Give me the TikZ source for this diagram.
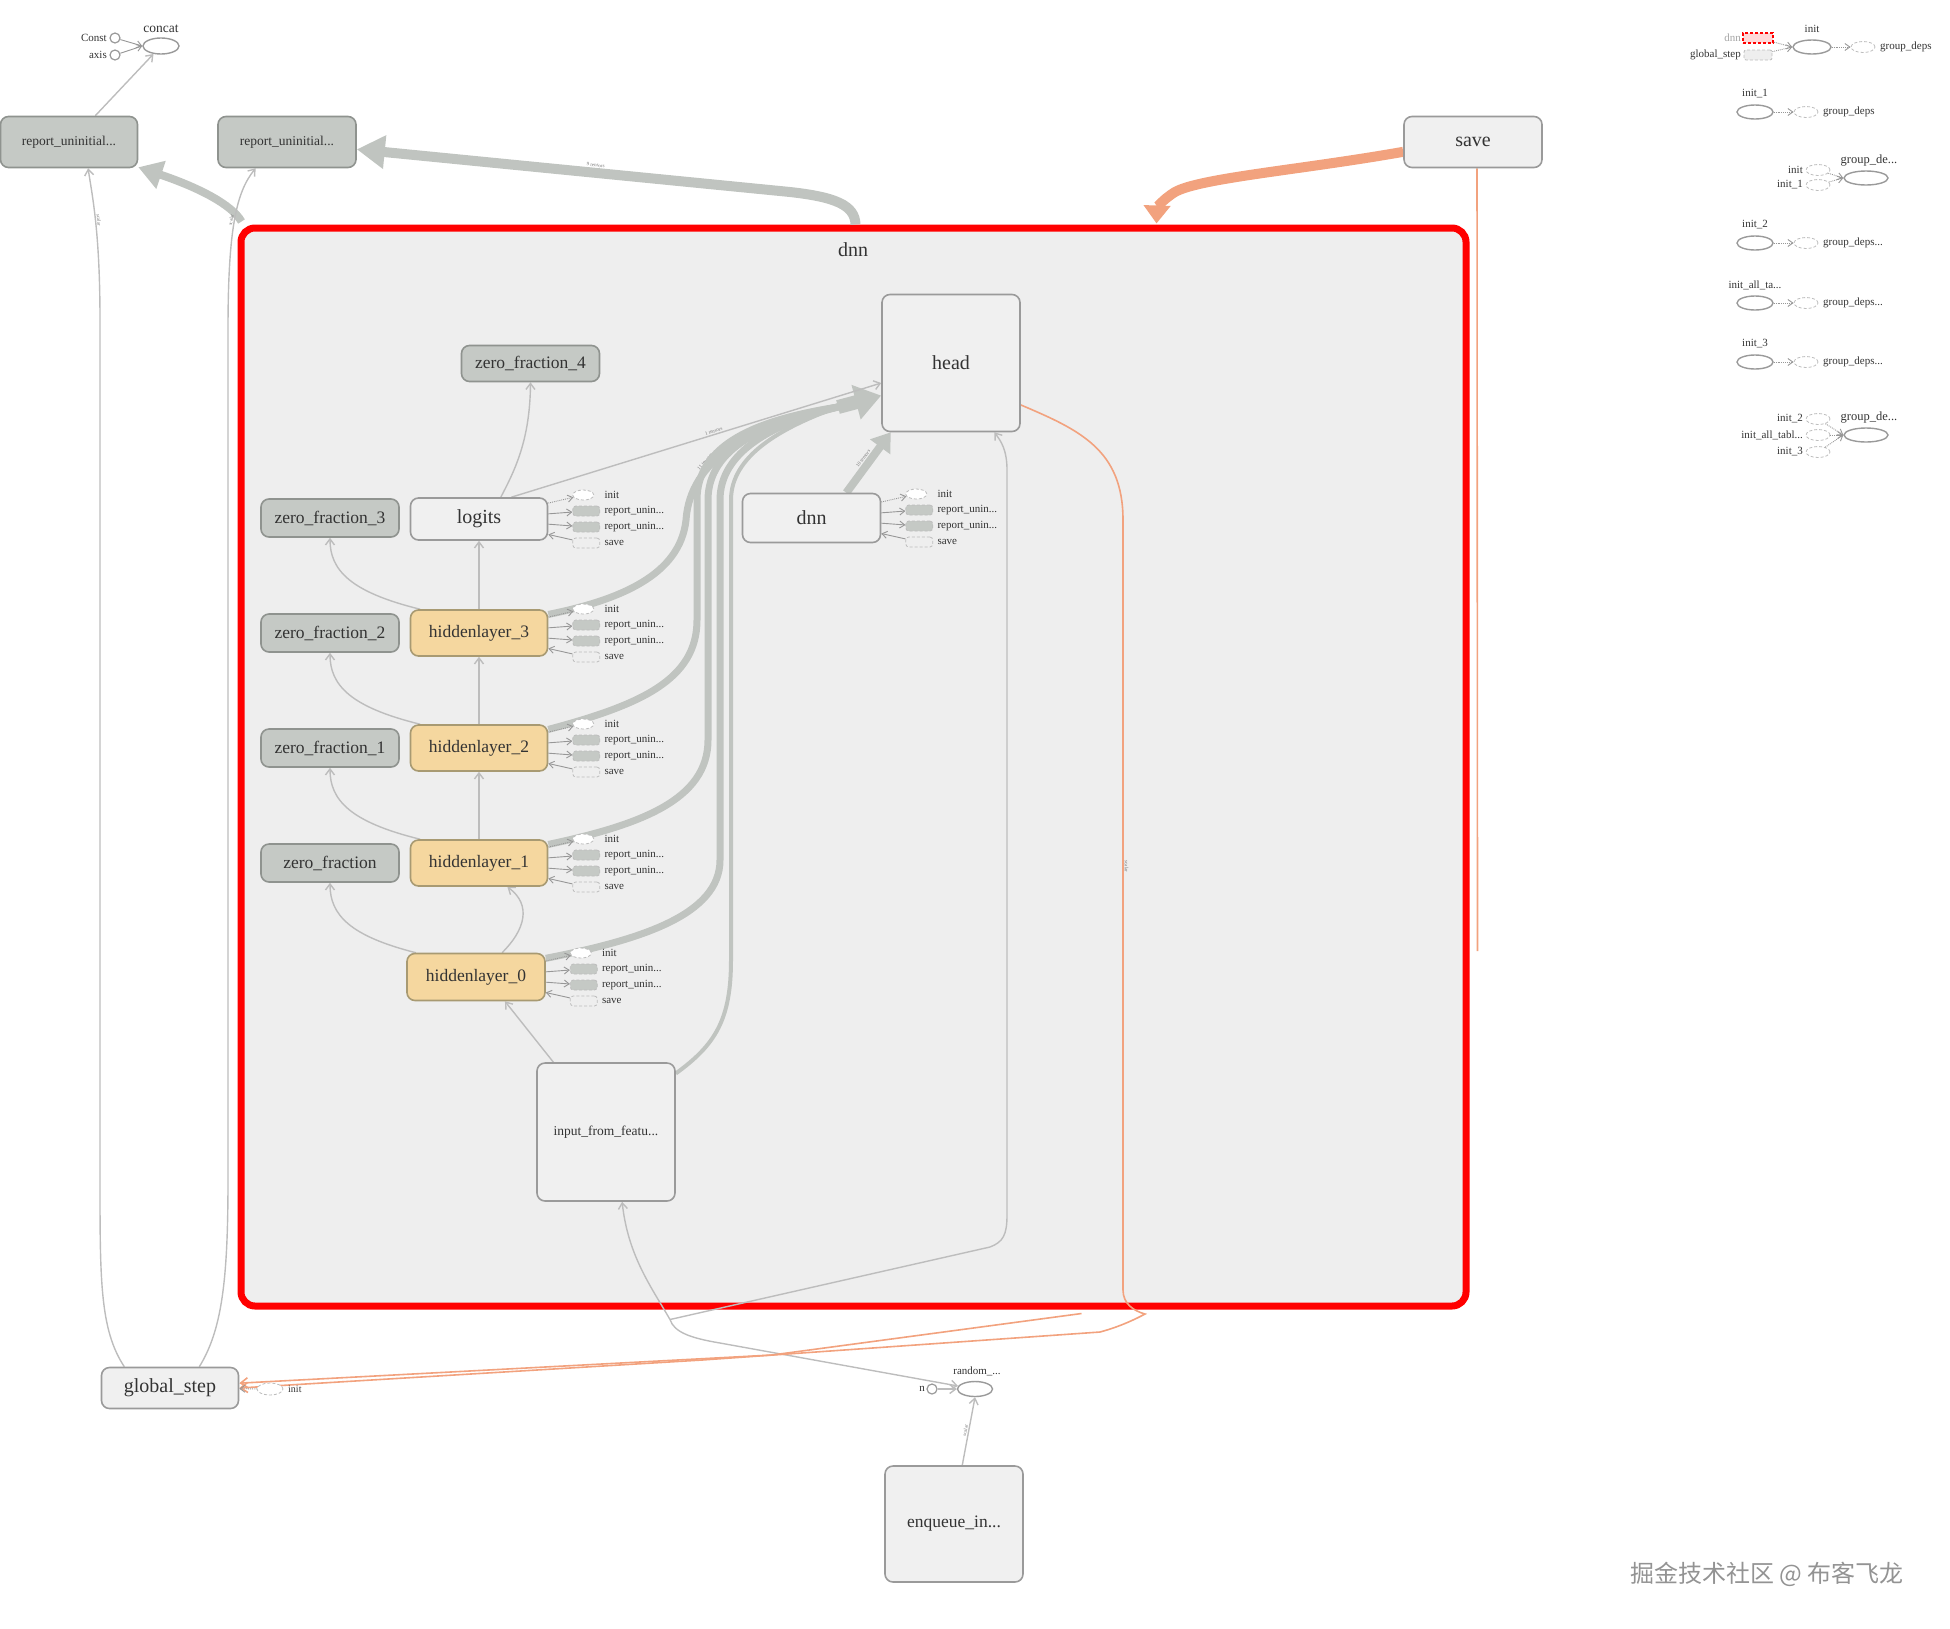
\documentclass[tikz,border=0pt]{standalone}
\usepackage{fontspec}
\setmainfont{Liberation Serif}
\newfontfamily\cjkfont{Noto Sans CJK SC}
\usetikzlibrary{arrows.meta,shapes.geometric,calc}
\pgfdeclarelayer{bg}
\pgfsetlayers{bg,main}
\definecolor{boxbg}{HTML}{EEEEEE}
\definecolor{nodebg}{HTML}{F0F0F0}
\definecolor{nodeln}{HTML}{9A9A9A}
\definecolor{greyfill}{HTML}{C5C9C5}
\definecolor{greyln}{HTML}{8F938F}
\definecolor{hlfill}{HTML}{F5D79F}
\definecolor{hlln}{HTML}{A89A72}
\definecolor{edgec}{HTML}{BDBDBD}
\definecolor{thickc}{HTML}{C0C4C0}
\definecolor{orng}{HTML}{F2A27E}
\definecolor{txt}{HTML}{333333}
\definecolor{lab}{HTML}{777777}
\newcommand\szA{\fontsize{20}{24}\selectfont}
\newcommand\szB{\fontsize{17.5}{21}\selectfont}
\newcommand\szC{\fontsize{13.5}{16}\selectfont}
\newcommand\szS{\fontsize{11}{13}\selectfont}
\newcommand\szT{\fontsize{5}{6}\selectfont}
\tikzset{
 nb/.style={rounded corners=8pt, line width=1.6pt, text=txt, inner sep=0pt, align=center},
 lnode/.style={nb, draw=nodeln, fill=nodebg},
 gnode/.style={nb, draw=greyln, fill=greyfill},
 hnode/.style={nb, draw=hlln, fill=hlfill},
 tedge/.style={draw=edgec, line width=1.4pt, -{Straight Barb[length=6pt,width=9pt]}},
 sedge/.style={draw=edgec!80!black, line width=0.9pt, -{Straight Barb[length=5pt,width=7pt]}},
 dedge/.style={draw=edgec!80!black, line width=0.9pt, densely dotted, -{Straight Barb[length=5pt,width=7pt]}},
 tkedge/.style={draw=thickc, line width=7pt},
 oedge/.style={draw=orng, line width=1.6pt, -{Straight Barb[length=7pt,width=10pt]}},
 initell/.style={ellipse, draw=edgec, densely dashed, line width=0.8pt, fill=white, minimum width=21pt, minimum height=10pt, inner sep=0pt},
 repbox/.style={rectangle, rounded corners=3pt, draw=edgec, densely dashed, line width=0.8pt, fill=greyfill, minimum width=27pt, minimum height=10pt, inner sep=0pt},
 savebx/.style={rectangle, rounded corners=3pt, draw=edgec, densely dashed, line width=0.8pt, minimum width=27pt, minimum height=10pt, inner sep=0pt},
 slab/.style={anchor=west, text=txt, font=\szS, inner sep=0pt},
 elab/.style={text=lab, font=\szT, inner sep=1pt, sloped},
 opell/.style={ellipse, draw=nodeln, line width=1.4pt, fill=white, inner sep=0pt},
 dsell/.style={ellipse, draw=edgec, densely dashed, line width=0.8pt, fill=white, minimum width=24pt, minimum height=11pt, inner sep=0pt},
}
\newcommand\attach[2]{%
 \node[initell] (#2i) at ($(#1.east)+(35,-24)$) {};
 \node[repbox] (#2a) at ($(#1.east)+(38,-8)$) {};
 \node[repbox] (#2b) at ($(#1.east)+(38,8)$) {};
 \node[savebx] (#2s) at ($(#1.east)+(38,24)$) {};
 \node[slab] (#2li) at ($(#1.east)+(56,-24)$) {init};
 \node[slab] (#2la) at ($(#1.east)+(56,-8)$) {report\_unin...};
 \node[slab] (#2lb) at ($(#1.east)+(56,8)$) {report\_unin...};
 \node[slab] (#2ls) at ($(#1.east)+(56,24)$) {save};
 \draw[dedge] (#1) -- (#2i);
 \draw[sedge] (#1) -- (#2a);
 \draw[sedge] (#1) -- (#2b);
 \draw[sedge] (#2s) -- (#1);
}
\begin{document}
\begin{tikzpicture}[x=1pt,y=-1pt]
\useasboundingbox (0,0) rectangle (1950,1628);

% ---------- main nodes ----------
\node[gnode, minimum width=137pt, minimum height=51pt, font=\szC] (rep1) at (69,142) {report\_uninitial...};
\node[gnode, minimum width=138pt, minimum height=51pt, font=\szC] (rep2) at (287,142) {report\_uninitial...};
\node[lnode, minimum width=138pt, minimum height=51pt, font=\szA] (save) at (1473,142) {save};
\node[lnode, minimum width=138pt, minimum height=137pt, font=\szA] (head) at (951,363) {head};
\node[gnode, minimum width=138pt, minimum height=36pt, font=\szB] (zf4) at (530.5,363.5) {zero\_fraction\_4};
\node[lnode, minimum width=137pt, minimum height=42pt, font=\szA] (logits) at (479,519) {logits};
\node[gnode, minimum width=138pt, minimum height=38pt, font=\szB] (zf3) at (330,518) {zero\_fraction\_3};
\node[gnode, minimum width=138pt, minimum height=38pt, font=\szB] (zf2) at (330,633) {zero\_fraction\_2};
\node[gnode, minimum width=138pt, minimum height=38pt, font=\szB] (zf1) at (330,748) {zero\_fraction\_1};
\node[gnode, minimum width=138pt, minimum height=38pt, font=\szB] (zf0) at (330,863) {zero\_fraction};
\node[hnode, minimum width=137pt, minimum height=46pt, font=\szB] (hl3) at (479,633) {hiddenlayer\_3};
\node[hnode, minimum width=137pt, minimum height=46pt, font=\szB] (hl2) at (479,748) {hiddenlayer\_2};
\node[hnode, minimum width=137pt, minimum height=46pt, font=\szB] (hl1) at (479,863) {hiddenlayer\_1};
\node[hnode, minimum width=138pt, minimum height=47pt, font=\szB] (hl0) at (476,977) {hiddenlayer\_0};
\node[lnode, minimum width=138pt, minimum height=49pt, font=\szA] (dnni) at (811.5,518) {dnn};
\node[lnode, minimum width=138pt, minimum height=138pt, font=\szC] (input) at (606,1132) {input\_from\_featu...};
\node[lnode, minimum width=137pt, minimum height=41pt, font=\szA] (gs) at (170,1388) {global\_step};
\node[lnode, minimum width=138pt, minimum height=116pt, font=\szB] (enq) at (954,1524) {enqueue\_in...};

% concat group (top left)
\node[opell, minimum width=36pt, minimum height=16pt] (concat) at (161,46) {};
\node[text=txt, font=\szC, inner sep=0pt] (concatl) at (161,29) {concat};
\node[circle, draw=nodeln, line width=1.2pt, fill=white, minimum size=10pt, inner sep=0pt] (constc) at (115,38) {};
\node[circle, draw=nodeln, line width=1.2pt, fill=white, minimum size=10pt, inner sep=0pt] (axisc) at (115,55) {};
\node[anchor=east, text=txt, font=\szS, inner sep=0pt] (constl) at (107,38) {Const};
\node[anchor=east, text=txt, font=\szS, inner sep=0pt] (axisl) at (107,55) {axis};

% random group (bottom)
\node[opell, minimum width=35pt, minimum height=15pt] (random) at (975,1389) {};
\node[text=txt, font=\szS, inner sep=0pt] (randoml) at (977,1371) {random\_...};
\node[circle, draw=nodeln, line width=1.2pt, fill=white, minimum size=10pt, inner sep=0pt] (nc) at (932,1389) {};
\node[anchor=east, text=txt, font=\szS, inner sep=0pt] (nl) at (925,1389) {n};

% global_step init
\node[dsell, minimum width=26pt, minimum height=12pt] (gsinit) at (270,1389) {};
\node[slab, font=\fontsize{10}{12}\selectfont] (gsinitl) at (288,1389) {init};

% attachments
\attach{logits}{la}
\attach{hl3}{h3}
\attach{hl2}{h2}
\attach{hl1}{h1}
\attach{hl0}{h0}
\attach{dnni}{dn}

% ---------- right panel ----------
\node[opell, minimum width=38pt, minimum height=14pt] (rinit) at (1812,47) {};
\node[text=txt, font=\szS, inner sep=0pt] (rinitl) at (1812,29) {init};
\node[rectangle, draw=red, densely dashed, line width=2pt, fill=red!15, minimum width=30pt, minimum height=10pt, inner sep=0pt] (rdnn) at (1758,38) {};
\node[anchor=east, text=gray!70, font=\szS, inner sep=0pt] (rdnnl) at (1741,38) {dnn};
\node[rectangle, rounded corners=2pt, draw=edgec, densely dashed, line width=0.8pt, fill=boxbg, minimum width=28pt, minimum height=10pt, inner sep=0pt] (rgs) at (1758,55) {};
\node[anchor=east, text=txt, font=\szS, inner sep=0pt] (rgsl) at (1741,55) {global\_step};
\node[dsell] (rgd0) at (1863,47) {};
\node[slab] (rgd0l) at (1880,47) {group\_deps};
\draw[dedge] (rdnn) -- (rinit.west);
\draw[dedge] (rgs) -- (rinit.west);
\draw[dedge] (rinit) -- (rgd0);

\node[opell, minimum width=36pt, minimum height=14pt] (rinit1) at (1755,112) {};
\node[text=txt, font=\szS, inner sep=0pt] (rinit1l) at (1755,94) {init\_1};
\node[dsell] (rgd1) at (1806,112) {};
\node[slab] (rgd1l) at (1823,112) {group\_deps};
\draw[dedge] (rinit1) -- (rgd1);

\node[opell, minimum width=44pt, minimum height=14pt] (rgde1) at (1866,178) {};
\node[text=txt, font=\fontsize{12.5}{15}\selectfont, inner sep=0pt] (rgde1l) at (1869,161) {group\_de...};
\node[dsell] (rs1a) at (1818,170) {};
\node[dsell] (rs1b) at (1818,185) {};
\node[anchor=east, text=txt, font=\szS, inner sep=0pt] (rs1al) at (1803,170) {init};
\node[anchor=east, text=txt, font=\szS, inner sep=0pt] (rs1bl) at (1803,185) {init\_1};
\draw[dedge] (rs1a) -- (rgde1.west);
\draw[dedge] (rs1b) -- (rgde1.west);

\node[opell, minimum width=36pt, minimum height=14pt] (rinit2) at (1755,243) {};
\node[text=txt, font=\szS, inner sep=0pt] (rinit2l) at (1755,225) {init\_2};
\node[dsell] (rgd2) at (1806,243) {};
\node[slab] (rgd2l) at (1823,243) {group\_deps...};
\draw[dedge] (rinit2) -- (rgd2);

\node[opell, minimum width=36pt, minimum height=14pt] (rinita) at (1755,303) {};
\node[text=txt, font=\szS, inner sep=0pt] (rinital) at (1755,285) {init\_all\_ta...};
\node[dsell] (rgd3) at (1806,303) {};
\node[slab] (rgd3l) at (1823,303) {group\_deps...};
\draw[dedge] (rinita) -- (rgd3);

\node[opell, minimum width=36pt, minimum height=14pt] (rinit3) at (1755,362) {};
\node[text=txt, font=\szS, inner sep=0pt] (rinit3l) at (1755,344) {init\_3};
\node[dsell] (rgd4) at (1806,362) {};
\node[slab] (rgd4l) at (1823,362) {group\_deps...};
\draw[dedge] (rinit3) -- (rgd4);

\node[opell, minimum width=44pt, minimum height=14pt] (rgde2) at (1866,435) {};
\node[text=txt, font=\fontsize{12.5}{15}\selectfont, inner sep=0pt] (rgde2l) at (1869,418) {group\_de...};
\node[dsell] (rs2a) at (1818,419) {};
\node[dsell] (rs2b) at (1818,435) {};
\node[dsell] (rs2c) at (1818,452) {};
\node[anchor=east, text=txt, font=\szS, inner sep=0pt] (rs2al) at (1803,419) {init\_2};
\node[anchor=east, text=txt, font=\szS, inner sep=0pt] (rs2bl) at (1803,435) {init\_all\_tabl...};
\node[anchor=east, text=txt, font=\szS, inner sep=0pt] (rs2cl) at (1803,452) {init\_3};
\draw[dedge] (rs2a) -- (rgde2.west);
\draw[dedge] (rs2b) -- (rgde2.west);
\draw[dedge] (rs2c) -- (rgde2.west);

% watermark
\node[text=gray!85, font=\cjkfont\fontsize{24}{28}\selectfont, inner sep=0pt] (wm) at (1767,1574) {掘金技术社区 @ 布客飞龙};

% ---------- background layer: box and edges ----------
\begin{pgfonlayer}{bg}
\node[draw=red, line width=7pt, rounded corners=14pt, fill=boxbg, minimum width=1225pt, minimum height=1078pt, inner sep=0pt] (dnnbox) at (853.5,767) {};
\node[text=txt, font=\szA, inner sep=0pt] (dnnt) at (853,250) {dnn};
\coordinate (hin) at (838,407);
\coordinate (qj) at ($(dnnbox.south)+(-183.5,10)$);
\coordinate (ob) at ($(dnnbox.south)+(228,4)$);

% thick edges into head
\draw[tkedge] (hl3.15) .. controls (620,600) and (680,575) .. (686,520) .. controls (690,460) and (750,425) .. (hin) node[elab, pos=0.35, above] {11 tensors};
\draw[tkedge] (hl2.15) .. controls (640,705) and (697,680) .. (697,620) -- (697,500) .. controls (697,445) and (755,420) .. (hin);
\draw[tkedge] (hl1.15) .. controls (640,825) and (708,800) .. (708,740) -- (708,500) .. controls (708,448) and (765,422) .. (hin);
\draw[tkedge] (hl0.15) .. controls (640,940) and (720,915) .. (720,860) -- (720,500) .. controls (720,452) and (772,424) .. (hin);
\draw[tkedge, line width=4pt] (input.40) .. controls (715,1045) and (731,1020) .. (731,960) -- (731,500) .. controls (731,456) and (780,428) .. (hin);
\draw[tkedge, line width=14pt, -{Triangle[length=26pt,width=34pt]}] (hin) -- (head.205);
\draw[tkedge, line width=8pt, -{Triangle[length=18pt,width=24pt]}] (dnni.36) -- (head.229) node[elab, midway, above] {10 tensors};

% thin edges inside
\draw[tedge] (logits.34) -- (head.196) node[elab, pos=0.55, above] {1 tensors};
\draw[tedge] (logits.45) .. controls (515,470) and (530,440) .. (zf4.south);
\draw[tedge] (hl3.158) .. controls (350,592) and (330,570) .. (zf3.south);
\draw[tedge] (hl2.158) .. controls (350,707) and (330,685) .. (zf2.south);
\draw[tedge] (hl1.158) .. controls (350,822) and (330,800) .. (zf1.south);
\draw[tedge] (hl0.158) .. controls (350,936) and (330,915) .. (zf0.south);
\draw[tedge] (hl3) -- (logits);
\draw[tedge] (hl2) -- (hl3);
\draw[tedge] (hl1) -- (hl2);
\draw[tedge] (hl0.43) .. controls (525,930) and (532,905) .. (hl1.-40);
\draw[tedge] (input.127) -- (hl0.-40);

% edges crossing the box bottom
\draw[tedge] (qj) .. controls (650,1285) and (628,1255) .. (input.-77);
\draw[tedge] (qj) -- (990,1247) .. controls (1003,1242) and (1007,1235) .. (1007,1215) -- (1007,470) .. controls (1007,450) and (1001,441) .. (head.-58);
\draw[tedge] (qj) .. controls (674,1332) and (690,1338) .. (720,1343) -- (random.170);
\draw[tedge] (nc) -- (random.west);
\draw[tedge] (enq.82) -- (random.south) node[elab, midway, above] {scalar};

% thick edges leaving the box
\draw[tkedge, line width=10pt, -{Triangle[length=28pt,width=32pt]}] ($(dnnbox.north)+(2,0)$) .. controls (855,205) and (835,197) .. (790,192) -- (rep2.-6) node[elab, pos=0.45, above] {9 tensors};
\draw[tkedge, line width=8pt, -{Triangle[length=24pt,width=28pt]}] ($(dnnbox.north west)+(4,-3)$) .. controls (232,205) and (200,188) .. (rep1.-20);

% save edges
\draw[draw=orng, line width=10pt, -{Triangle[length=18pt,width=26pt]}] (save.188) .. controls (1300,170) and (1200,178) .. (1175,192) .. controls (1162,200) and (1157,208) .. ($(dnnbox.north)+(303,-1)$);
\draw[draw=orng, line width=1.6pt] ($(save.south)+(4,0)$) -- ($(dnnbox.east)+(8,184)$);

% orange edges to global_step
\draw[oedge] (head.-31) .. controls (1080,430) and (1123,450) .. (1123,520) -- (1123,1290) node[elab, pos=0.45, above] {scalar} .. controls (1123,1304) and (1134,1311) .. (1145,1314) .. controls (1130,1322) and (1115,1328) .. (1100,1332) -- (702,1360) -- (gs.east);
\draw[oedge] (ob) -- (772,1355) -- (gs.4);

% global_step to report nodes
\draw[tedge] (gs.155) .. controls (100,1330) and (100,1280) .. (100,1180) -- (100,320) .. controls (100,230) and (92,195) .. (rep1.-54) node[elab, pos=0.5, above] {scalar};
\draw[tedge] (gs.36) .. controls (222,1330) and (228,1280) .. (228,1180) -- (228,330) .. controls (228,230) and (236,192) .. (rep2.-140) node[elab, pos=0.5, above] {scalar};
\draw[dedge] (gsinit) -- (gs);

% concat edges
\draw[tedge] (rep1.45) -- (concat);
\draw[sedge] (constc) -- (concat.west);
\draw[sedge] (axisc) -- (concat.west);
\end{pgfonlayer}
\end{tikzpicture}
\end{document}
